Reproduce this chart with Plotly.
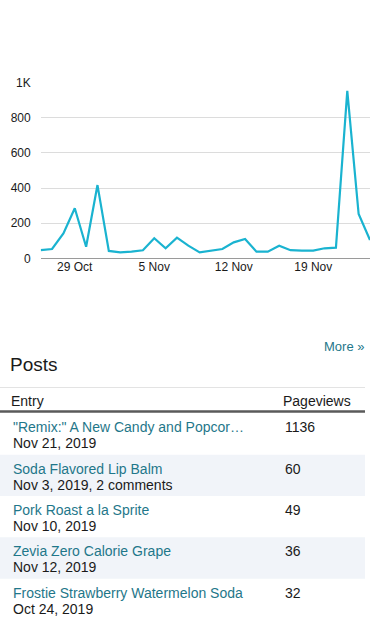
import plotly.graph_objects as go

W, H = 379, 640

# ---- chart data ----
dates = [
    "2019-10-26", "2019-10-27", "2019-10-28", "2019-10-29", "2019-10-30",
    "2019-10-31", "2019-11-01", "2019-11-02", "2019-11-03", "2019-11-04",
    "2019-11-05", "2019-11-06", "2019-11-07", "2019-11-08", "2019-11-09",
    "2019-11-10", "2019-11-11", "2019-11-12", "2019-11-13", "2019-11-14",
    "2019-11-15", "2019-11-16", "2019-11-17", "2019-11-18", "2019-11-19",
    "2019-11-20", "2019-11-21", "2019-11-22", "2019-11-23", "2019-11-24",
]
pageviews_daily = [
    47, 53, 142, 285, 66, 417, 42, 34, 38, 46,
    114, 57, 118, 72, 34, 42, 53, 91, 110, 38,
    38, 72, 46, 44, 44, 57, 61, 953, 252, 104,
]
y_tick_vals = [0, 200, 400, 600, 800, 1000]
y_tick_text = ["0", "200", "400", "600", "800", "1K"]
x_tick_vals = ["2019-10-29", "2019-11-05", "2019-11-12", "2019-11-19"]
x_tick_text = ["29 Oct", "5 Nov", "12 Nov", "19 Nov"]

# ---- table data ----
post_titles = [
    "\"Remix:\" A New Candy and Popcor\u2026",
    "Soda Flavored Lip Balm",
    "Pork Roast a la Sprite",
    "Zevia Zero Calorie Grape",
    "Frostie Strawberry Watermelon Soda",
]
post_dates = [
    "Nov 21, 2019",
    "Nov 3, 2019, 2 comments",
    "Nov 10, 2019",
    "Nov 12, 2019",
    "Oct 24, 2019",
]
post_views = [1136, 60, 49, 36, 32]

FONT = "Liberation Sans, Arial, sans-serif"
LINK = "#1f778a"
TEXT = "#1a1a1a"


def fx(p):
    return p / W


def fy(p):
    return 1 - p / H


fig = go.Figure()
fig.add_trace(go.Scatter(
    x=dates, y=pageviews_daily, mode="lines",
    line=dict(color="#1ab3d0", width=2.2),
    hoverinfo="x+y", showlegend=False,
))

shapes = []
annotations = []

annotations.append(dict(text="More \u00bb", x=fx(366), y=fy(346), xanchor="right", yanchor="middle",
                        font=dict(family=FONT, size=13, color=LINK), showarrow=False,
                        xref="paper", yref="paper"))
annotations.append(dict(text="Posts", x=fx(8), y=fy(364), xanchor="left", yanchor="middle",
                        font=dict(family=FONT, size=19, color=TEXT), showarrow=False,
                        xref="paper", yref="paper"))
annotations.append(dict(text="Entry", x=fx(9), y=fy(400.5), xanchor="left", yanchor="middle",
                        font=dict(family=FONT, size=14, color=TEXT), showarrow=False,
                        xref="paper", yref="paper"))
annotations.append(dict(text="Pageviews", x=fx(281), y=fy(400.5), xanchor="left", yanchor="middle",
                        font=dict(family=FONT, size=14, color=TEXT), showarrow=False,
                        xref="paper", yref="paper"))

TABLE_R = 365
shapes.append(dict(type="line", xref="paper", yref="paper", x0=fx(0), x1=fx(TABLE_R),
                   y0=fy(387.5), y1=fy(387.5), line=dict(color="#e3e3e3", width=1)))
shapes.append(dict(type="line", xref="paper", yref="paper", x0=fx(0), x1=fx(TABLE_R),
                   y0=fy(411.5), y1=fy(411.5), line=dict(color="#5a5a5a", width=2.5)))

row_top0 = 413.3
pitch = 41.35
for i, (t, d, v) in enumerate(zip(post_titles, post_dates, post_views)):
    top = row_top0 + i * pitch
    if i % 2 == 1:
        shapes.append(dict(type="rect", xref="paper", yref="paper", x0=fx(0), x1=fx(TABLE_R),
                           y0=fy(top + pitch), y1=fy(top), line=dict(width=0),
                           fillcolor="#f1f4f9", layer="below"))
    annotations.append(dict(text=t, x=fx(11), y=fy(top + 14), xanchor="left", yanchor="middle",
                            font=dict(family=FONT, size=14, color=LINK), showarrow=False,
                            xref="paper", yref="paper"))
    annotations.append(dict(text=d, x=fx(11), y=fy(top + 30), xanchor="left", yanchor="middle",
                            font=dict(family=FONT, size=14, color=TEXT), showarrow=False,
                            xref="paper", yref="paper"))
    annotations.append(dict(text=str(v), x=fx(283), y=fy(top + 14), xanchor="left", yanchor="middle",
                            font=dict(family=FONT, size=14, color=TEXT), showarrow=False,
                            xref="paper", yref="paper"))

fig.update_layout(
    width=W, height=H,
    margin=dict(l=0, r=0, t=0, b=0),
    paper_bgcolor="white", plot_bgcolor="white",
    font=dict(family=FONT, size=12, color=TEXT),
    shapes=shapes, annotations=annotations,
    xaxis=dict(
        domain=[fx(40.7), fx(370)],
        range=[dates[0], dates[-1]],
        tickvals=x_tick_vals, ticktext=x_tick_text,
        showgrid=False, zeroline=False, showline=False, ticks="",
        tickfont=dict(family=FONT, size=12, color=TEXT),
        fixedrange=True, automargin=False,
    ),
    yaxis=dict(
        domain=[fy(258.3), fy(82.7)],
        range=[0, 1000],
        tickvals=y_tick_vals, ticktext=y_tick_text,
        showgrid=True, gridcolor="#dcdcdc", gridwidth=1,
        zeroline=True, zerolinecolor="#9a9a9a", zerolinewidth=1,
        showline=False, ticks="",
        ticklabelstandoff=9,
        tickfont=dict(family=FONT, size=12, color=TEXT),
        fixedrange=True, automargin=False,
    ),
)

fig.write_html("out.html")
